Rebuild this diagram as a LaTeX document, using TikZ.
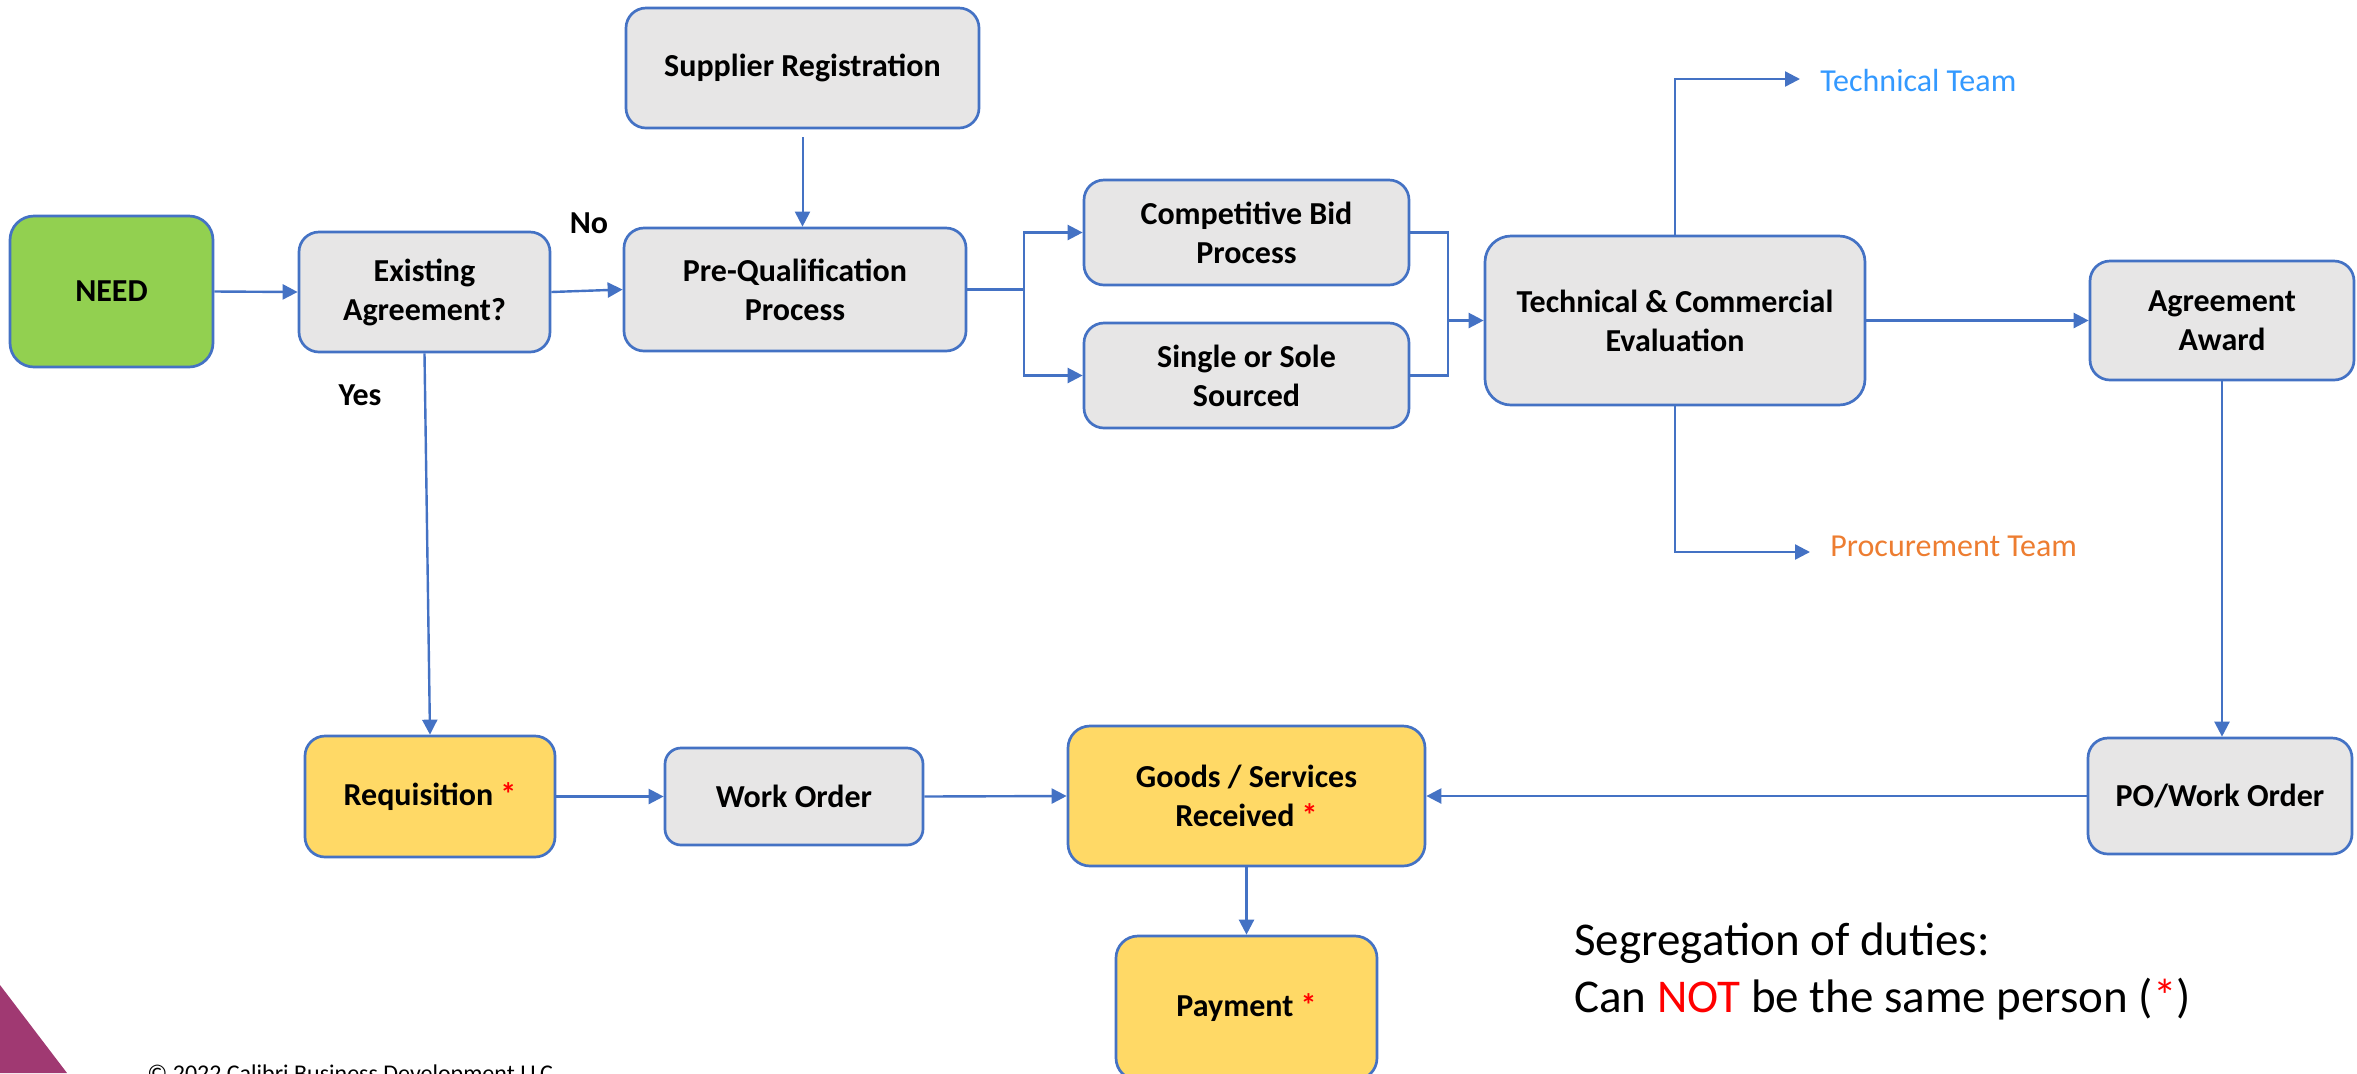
\documentclass[tikz,border=0pt]{standalone}
\usepackage{fontspec}
\setmainfont{Carlito}
\usetikzlibrary{arrows.meta,calc}
\definecolor{bord}{HTML}{4472C4}
\definecolor{grayfill}{HTML}{E7E6E6}
\definecolor{greenfill}{HTML}{92D050}
\definecolor{yellowfill}{HTML}{FFD966}
\definecolor{techblue}{HTML}{3399FF}
\definecolor{procorange}{HTML}{ED7D31}
\definecolor{purp}{RGB}{160,57,114}
\definecolor{starred}{HTML}{FF0000}
\begin{document}
\begin{tikzpicture}[x=0.5pt,y=-0.5pt,
  box/.style={draw=bord, line width=1.35pt, rounded corners=10pt, fill=grayfill, align=center,
    font=\fontsize{16pt}{19.5pt}\selectfont\bfseries, inner sep=0pt},
  arr/.style={draw=bord, line width=1.2pt, -{Triangle[length=7.5pt,width=7.5pt]}},
  ln/.style={draw=bord, line width=1.2pt},
  lbl/.style={font=\fontsize{16pt}{19.5pt}\selectfont\bfseries, inner sep=0pt},
  team/.style={font=\fontsize{16pt}{19.5pt}\selectfont, inner sep=0pt, anchor=west},
]
\useasboundingbox (0,0) rectangle (2357,1073);
\clip (0,0) rectangle (2357,1073);

% decoration
\fill[purp] (0,985) -- (67,1073) -- (0,1073) -- cycle;

% boxes
\node[box, fill=greenfill, rounded corners=12pt, minimum width=101.5pt, minimum height=75.5pt] (need) at (111.5,291.5) {NEED};
\node[box, minimum width=125.5pt, minimum height=60pt] (exist) at (424.5,292) {Existing\\Agreement?};
\node[box, minimum width=176.5pt, minimum height=60pt] (sup) at (802.5,68) {Supplier Registration};
\node[box, minimum width=171pt, minimum height=61.5pt] (pq) at (795,289.5) {Pre-Qualification\\Process};
\node[box, minimum width=162.5pt, minimum height=52.5pt] (comp) at (1246.5,232.5) {Competitive Bid\\Process};
\node[box, minimum width=162.5pt, minimum height=52.5pt] (single) at (1246.5,375.5) {Single or Sole\\Sourced};
\node[box, rounded corners=13pt, minimum width=190pt, minimum height=84.5pt] (tech) at (1675,320.5) {Technical \& Commercial\\Evaluation};
\node[box, minimum width=132pt, minimum height=59.5pt] (award) at (2222,320.5) {Agreement\\Award};
\node[box, minimum width=132pt, minimum height=58pt] (po) at (2220,796) {PO/Work Order};
\node[box, fill=yellowfill, minimum width=125pt, minimum height=60.5pt] (req) at (430,796.5) {Requisition {\color{starred}*}};
\node[box, rounded corners=8pt, minimum width=129pt, minimum height=48.5pt] (wo) at (794,796.5) {Work Order};
\node[box, fill=yellowfill, rounded corners=11pt, minimum width=178.5pt, minimum height=70pt] (goods) at (1246.5,796) {Goods / Services\\Received {\color{starred}*}};
\node[box, fill=yellowfill, rounded corners=11pt, minimum width=130.5pt, minimum height=72pt] (pay) at (1246.5,1008) {Payment {\color{starred}*}};

% labels
\node[lbl] (no) at (589,223) {No};
\node[lbl] (yes) at (360,395) {Yes};
\node[team, text=techblue] (tt) at (1820,80) {Technical Team};
\node[team, text=procorange] (pt) at (1830,546) {Procurement Team};
\coordinate (ttend) at (1800,79);
\coordinate (ptend) at (1810,552);

\node[anchor=base west, align=left, inner sep=0pt, font=\fontsize{23.5pt}{28.5pt}\selectfont] (seg) at (1574,1012)
  {Segregation of duties:\\Can {\color{starred}NOT} be the same person ({\color{starred}*})};
\node[anchor=base west, inner sep=0pt, font=\fontsize{12pt}{14pt}\selectfont] (copy) at (147,1081)
  {© 2022 Calibri Business Development LLC};

% connectors
\draw[arr] (need.east) -- (exist.west);
\draw[arr] (exist.east) -- (pq.west);
\draw[arr] (exist.south) -- (req.north);
\draw[arr, line width=1pt] ([yshift=-4pt]sup.south) -- (sup.south |- pq.north);
\coordinate (j1) at (1024,289.5);
\draw[arr] (pq.east) -- (j1) |- (comp.west);
\draw[arr] (j1) |- (single.west);
\coordinate (j2) at (1448,320.5);
\draw[ln] (comp.east) -| (j2) |- (single.east);
\draw[arr] (j2) -- (j2 -| tech.west);
\draw[arr] (tech.east) -- (award.west);
\draw[arr] (tech.north) |- (ttend);
\draw[arr] (tech.south) |- (ptend);
\draw[arr] (award.south) -- (award.south |- po.north);
\draw[arr] (po.west) -- (goods.east);
\draw[arr] (req.east) -- (wo.west);
\draw[arr] (wo.east) -- (goods.west);
\draw[arr] (goods.south) -- (pay.north);
\end{tikzpicture}
\end{document}
